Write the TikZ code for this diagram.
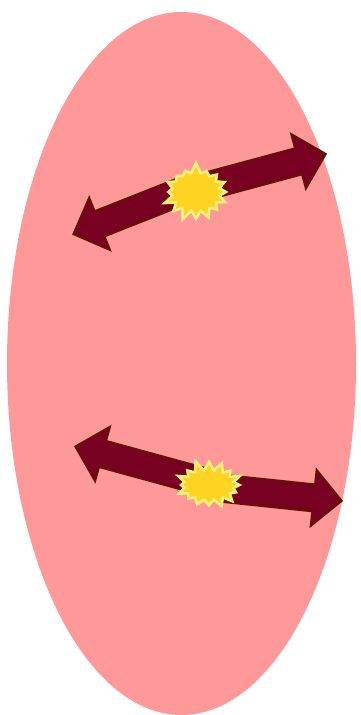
\documentclass[tikz,border=0pt]{standalone}
\usetikzlibrary{shapes.arrows,shapes.symbols}
\definecolor{ovalPink}{HTML}{FF9999}
\definecolor{arrowRed}{HTML}{780020}
\definecolor{arrowEdge}{HTML}{5C1800}
\definecolor{burstYellow}{HTML}{FFD322}
\definecolor{burstEdge}{HTML}{FFF27A}
\tikzset{
  pulse/.style={single arrow, draw=arrowEdge, fill=arrowRed, line width=1.5pt,
    inner xsep=0pt, inner ysep=13pt, single arrow head extend=15pt, anchor=tail},
  burst/.style={starburst, draw=burstEdge, fill=burstYellow, line width=2.5pt,
    starburst points=16, starburst point height=11pt, inner sep=0pt}
}
\begin{document}
\begin{tikzpicture}[x=1pt, y=1pt]
    % 1. Khung hinh
    \useasboundingbox (0,0) rectangle (361,715);

    % 2. Hinh bau duc
    \fill[ovalPink] (181.5,351.5) ellipse [x radius=174.5, y radius=351.5];

    % 3. Cap mui ten phia tren
    \node[pulse, rotate=201.6, minimum height=125pt] (topLeft) at (190,527) {};
    \node[pulse, rotate=15.1, minimum height=134pt] (topRight) at (196,526) {};
    \node[burst, minimum width=70pt, minimum height=60pt, random starburst=7] (topBurst) at (196,523) {};

    % 4. Cap mui ten phia duoi
    \node[pulse, rotate=164.7, minimum height=134pt] (lowLeft) at (205,233) {};
    \node[pulse, rotate=-6, minimum height=132pt] (lowRight) at (210,228) {};
    \node[burst, minimum width=72pt, minimum height=52pt, random starburst=11] (lowBurst) at (209,230) {};

\end{tikzpicture}
\end{document}
